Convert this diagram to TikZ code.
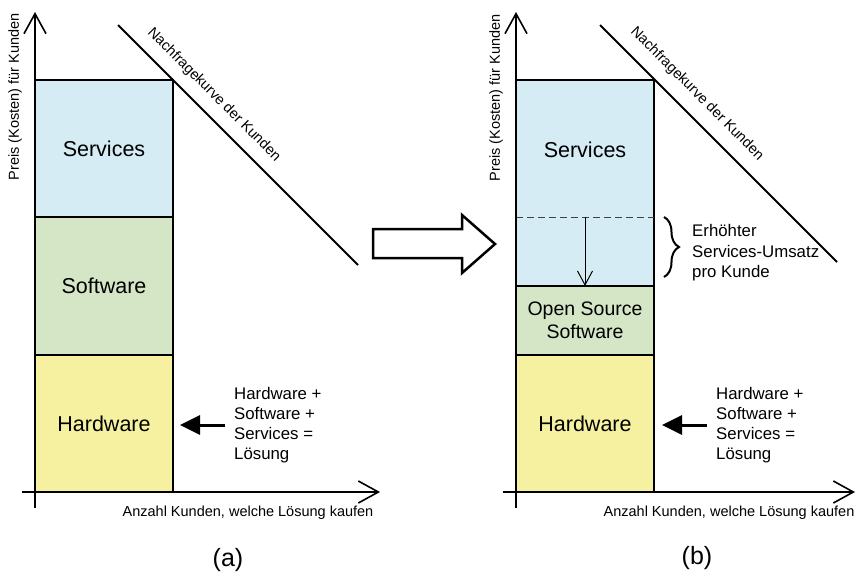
\documentclass[tikz,border=0pt]{standalone}
\usepackage{fontspec}
\setmainfont{Liberation Sans}
\usetikzlibrary{arrows.meta,positioning,decorations.pathreplacing}
\definecolor{svcblue}{RGB}{213,236,244}
\definecolor{swgreen}{RGB}{213,230,198}
\definecolor{hwyellow}{RGB}{246,241,160}

\begin{document}
\begin{tikzpicture}[x=1pt, y=-1pt,
  seg/.style={draw, line width=1.5pt, minimum width=138pt, inner sep=0pt, outer sep=0pt, align=center, font=\fontsize{21.5}{24}\selectfont},
  axis/.style={line width=1.6pt, -{Straight Barb[length=20pt, width=22pt, line width=1.6pt]}},
  demand/.style={line width=2pt},
  small/.style={font=\fontsize{14.5}{17}\selectfont, inner sep=0pt},
  note/.style={anchor=west, align=left, inner sep=0pt, font=\fontsize{16.8}{20}\selectfont},
  solarr/.style={line width=3pt, -{Triangle[length=20pt, width=19pt]}},
  panelcap/.style={font=\fontsize{25}{28}\selectfont}]
\useasboundingbox (0,0) rectangle (856,579);

% (a) klassisch
\node[seg, fill=svcblue, minimum height=137pt, anchor=north west] (svcA) at (35,80) {Services};
\node[seg, fill=swgreen, minimum height=138pt, below=0pt of svcA] (swA) {Software};
\node[seg, fill=hwyellow, minimum height=137pt, below=0pt of swA] (hwA) {Hardware};
\coordinate (ybotA) at (35,508);
\coordinate (ytopA) at (35,12);
\coordinate (xbegA) at (22,492);
\coordinate (xendA) at (380,492);
\draw[axis] (ybotA) -- (ytopA);
\draw[axis] (xbegA) -- (xendA);
\node[small, rotate=90] (ylabA) at (15,97) {Preis (Kosten) für Kunden};
\node[small] (xlabA) at (248,513) {Anzahl Kunden, welche Lösung kaufen};
\coordinate (dtopA) at (118,25);
\coordinate (dbotA) at (358,265);
\draw[demand] (dtopA) -- (dbotA);
\node[small, rotate=-45] (nfA) at (214,95) {Nachfragekurve der Kunden};
\node[note] (solA) at (234,425) {Hardware +\\Software +\\Services =\\Lösung};
\draw[solarr, shorten <=9pt, shorten >=7pt] (solA.west) -- (solA.west -| hwA.east);
\node[panelcap] (capA) at (228,560) {(a)};

% Uebergang
\draw[line width=2.5pt, line join=miter] (373,229) -- (462,229) -- (462,215) -- (495,244)
  -- (462,273) -- (462,258) -- (373,258) -- cycle;

% (b) mit Open Source
\node[seg, fill=svcblue, minimum height=206pt, anchor=north west] (svcB) at (516,80) {};
\node[seg, fill=swgreen, minimum height=69pt, below=0pt of svcB, font=\fontsize{19.5}{23}\selectfont] (ossB) {Open Source\\Software};
\node[seg, fill=hwyellow, minimum height=137pt, below=0pt of ossB] (hwB) {Hardware};
\node[font=\fontsize{21.5}{24}\selectfont] (svcTxtB) at (585,150) {Services};
\coordinate (cutL) at (516,217);
\coordinate (cutM) at (585,217);
\coordinate (cutR) at (654,217);
\draw[line width=1pt, dash pattern=on 7pt off 4pt, black!75] (cutL) -- (cutR);
\draw[line width=1pt, -{Straight Barb[length=14pt, width=15pt, line width=1pt]}] (cutM) -- (ossB.north);
\coordinate (ybotB) at (516,508);
\coordinate (ytopB) at (516,12);
\coordinate (xbegB) at (503,492);
\coordinate (xendB) at (855,492);
\draw[axis] (ybotB) -- (ytopB);
\draw[axis] (xbegB) -- (xendB);
\node[small, rotate=90] (ylabB) at (496,98) {Preis (Kosten) für Kunden};
\node[small] (xlabB) at (729,513) {Anzahl Kunden, welche Lösung kaufen};
\coordinate (dtopB) at (600,25);
\coordinate (dbotB) at (837,262);
\draw[demand] (dtopB) -- (dbotB);
\node[small, rotate=-45] (nfB) at (697,94) {Nachfragekurve der Kunden};
\coordinate (brTop) at (664,217);
\coordinate (brBot) at (664,277);
\draw[line width=2pt, decorate, decoration={brace, amplitude=15pt}] (brTop) -- (brBot);
\node[note, font=\fontsize{16.8}{20.5}\selectfont] (umsB) at (692,253) {Erhöhter\\Services-Umsatz\\pro Kunde};
\node[note] (solB) at (716,425) {Hardware +\\Software +\\Services =\\Lösung};
\draw[solarr, shorten <=9pt, shorten >=8pt] (solB.west) -- (solB.west -| hwB.east);
\node[panelcap] (capB) at (697,558) {(b)};
\end{tikzpicture}
\end{document}
